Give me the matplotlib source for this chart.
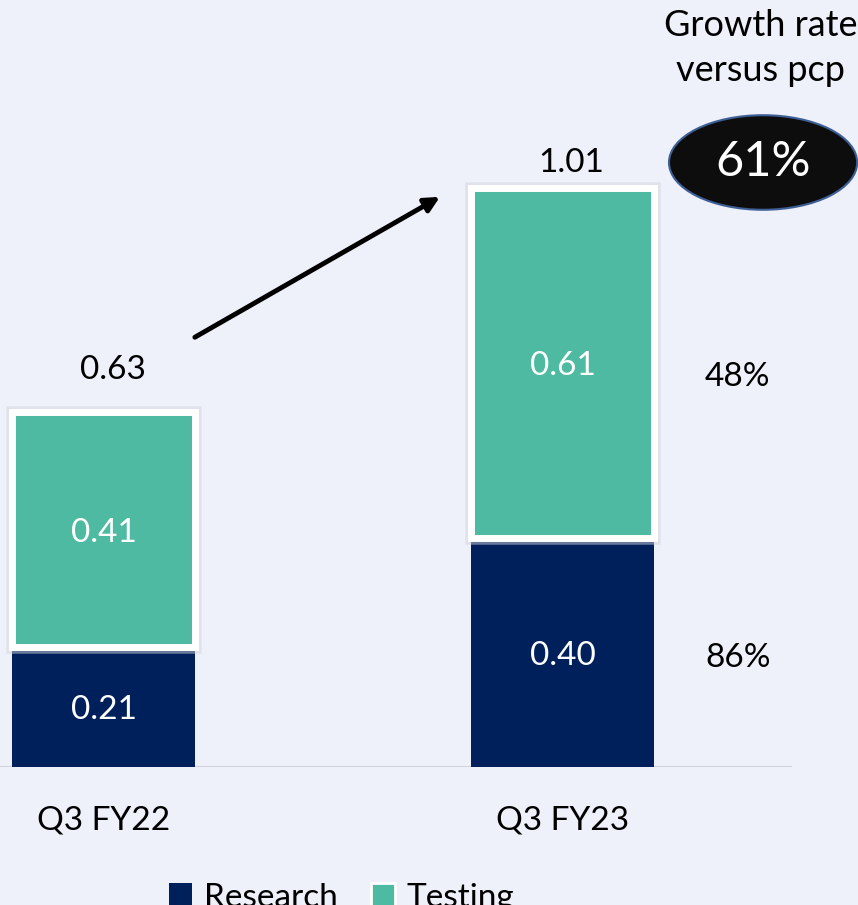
import matplotlib
matplotlib.use("Agg")
import matplotlib.pyplot as plt
import matplotlib.patheffects as pe
from matplotlib.patches import Patch, Ellipse

periods = ["Q3 FY22", "Q3 FY23"]
research = [0.21, 0.40]
testing = [0.41, 0.61]
totals = [0.63, 1.01]
growth_research = "86%"
growth_testing = "48%"
growth_total = "61%"

NAVY = "#00205C"
TEAL = "#4FBAA2"
BG = "#EEF0FA"

plt.rcParams["font.family"] = ["Lato", "DejaVu Sans"]

fig = plt.figure(figsize=(8.58, 9.05), dpi=100, facecolor=BG)
ax = fig.add_axes([0, 138 / 905, 1, 767 / 905])
ax.set_facecolor(BG)

x = list(range(len(periods)))
ax.bar(x, research, width=0.4, color=NAVY, zorder=2)
tb = ax.bar(x, testing, width=0.4, bottom=research, color=TEAL,
            edgecolor="white", linewidth=5, zorder=3)
for p in tb:
    p.set_path_effects([pe.Stroke(linewidth=9, foreground="#d3d5de", alpha=0.5),
                        pe.Normal()])

fs = 24
for i in x:
    ax.text(i, research[i] / 2 - 0.006, f"{research[i]:.2f}", color="white",
            ha="center", va="center", fontsize=fs, zorder=4)
    ax.text(i, research[i] + testing[i] / 2 - 0.006, f"{testing[i]:.2f}",
            color="white", ha="center", va="center", fontsize=fs, zorder=4)
offs = [27, 10]
for i in x:
    ax.annotate(f"{totals[i]:.2f}", (i + 0.02, research[i] + testing[i]),
                xytext=(0, offs[i]), textcoords="offset pixels",
                ha="center", va="bottom", fontsize=fs)

# growth column
gx = 1.382
ax.text(gx, research[1] / 2 - 0.01, growth_research, ha="center", va="center",
        fontsize=fs)
ax.text(gx, research[1] + testing[1] / 2 - 0.025, growth_testing, ha="center",
        va="center", fontsize=fs)
ax.text(1.432, 1.255, "Growth rate\nversus pcp", ha="center", va="center",
        fontsize=26, linespacing=1.45)
ax.add_patch(Ellipse((1.437, 1.055), 0.41, 0.165, facecolor="#0d0d0d",
                     edgecolor="#3d5f95", linewidth=1.5, zorder=5))
ax.text(1.437, 1.055, growth_total, color="white", ha="center", va="center",
        fontsize=35, zorder=6)

# arrow from FY22 to FY23
ax.annotate("", xy=(0.733, 0.995), xytext=(0.199, 0.75),
            arrowprops=dict(arrowstyle="-|>", color="black", lw=3.5,
                            mutation_scale=22, shrinkA=0, shrinkB=0))

ax.hlines(0, -0.3, 1.5, color="#d2d3da", linewidth=1.5, zorder=1)

ax.set_xlim(-103.5 / 459, (858 - 103.5) / 459)
ax.set_ylim(0, 767 / 573)
ax.set_xticks(x, periods, fontsize=fs)
ax.tick_params(length=0, pad=28)
ax.set_yticks([])
for s in ax.spines.values():
    s.set_visible(False)

handles = [Patch(facecolor=NAVY, label="Research"),
           Patch(facecolor=TEAL, edgecolor="white", linewidth=2, label="Testing")]
fig.legend(handles=handles, loc="center", bbox_to_anchor=(0.398, 0.008),
           ncol=2, frameon=False, fontsize=fs, handlelength=0.7,
           handleheight=0.7, handletextpad=0.35, columnspacing=1.0)

fig.savefig("out.png", dpi=100, facecolor=BG)
